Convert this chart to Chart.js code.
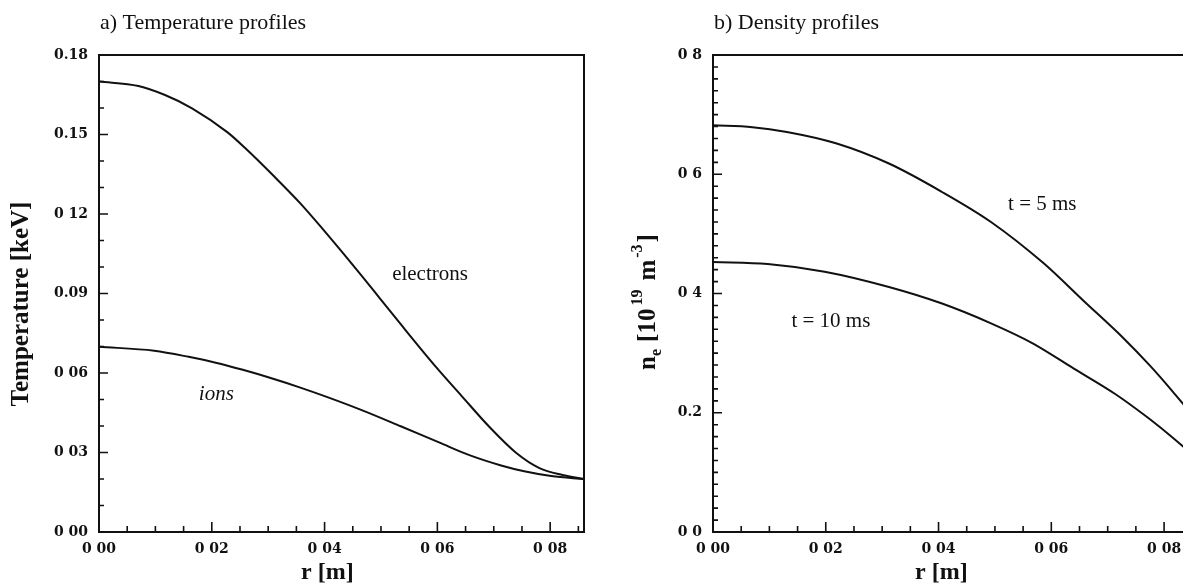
<!DOCTYPE html>
<html lang="en">
<head>
  <meta charset="UTF-8">
  <title>Temperature and density profiles</title>
  <script src="https://cdn.jsdelivr.net/npm/chart.js"></script>
  <style>
    html, body {
      margin: 0;
      padding: 0;
      width: 1183px;
      height: 587px;
      overflow: hidden;
      background: #fff;
    }
    #wrap {
      position: relative;
      width: 1183px;
      height: 587px;
    }
    canvas {
      position: absolute;
      top: 0;
    }
    #tempChart { left: 0; }
    #densChart { left: 600px; }
  </style>
</head>
<body>
  <div id="wrap">
    <canvas id="tempChart" width="600" height="587"></canvas>
    <canvas id="densChart" width="600" height="587"></canvas>
  </div>

  <script>
    // a) temperature profiles
    const rElectrons = [0, 0.007, 0.0117, 0.0165, 0.0228, 0.0261, 0.0309, 0.0357, 0.0398, 0.0432,
                        0.0467, 0.0498, 0.0535, 0.0597, 0.0644, 0.0692, 0.074, 0.0781, 0.0822, 0.086];
    const tElectrons = [0.170, 0.1683, 0.1649, 0.1599, 0.1508, 0.1445, 0.1345, 0.124, 0.114, 0.1054,
                        0.0964, 0.0882, 0.0784, 0.0624, 0.0511, 0.0397, 0.0298, 0.0241, 0.0215, 0.020];
    const rIons = [0, 0.0098, 0.0159, 0.0207, 0.0255, 0.0303, 0.0357, 0.0405, 0.0467, 0.0535,
                   0.0604, 0.0658, 0.0713, 0.0754, 0.0802, 0.086];
    const tIons = [0.0699, 0.0684, 0.0661, 0.0639, 0.0612, 0.0582, 0.0545, 0.0509, 0.0459, 0.0399,
                   0.0337, 0.0289, 0.0251, 0.0229, 0.0211, 0.020];

    // b) density profiles
    const r5ms = [0, 0.007, 0.0131, 0.0218, 0.0312, 0.0405, 0.0493, 0.0586, 0.0658, 0.0728, 0.0775, 0.0815, 0.0838];
    const n5ms = [0.682, 0.679, 0.671, 0.652, 0.618, 0.571, 0.520, 0.451, 0.387, 0.325, 0.279, 0.236, 0.210];
    const r10ms = [0, 0.0097, 0.0198, 0.0312, 0.0405, 0.0493, 0.0567, 0.064, 0.0714, 0.0768, 0.0808, 0.0838];
    const n10ms = [0.453, 0.4495, 0.4366, 0.411, 0.3836, 0.350, 0.3165, 0.274, 0.231, 0.194, 0.164, 0.140];

    // ticks
    const xTicks = [0, 0.02, 0.04, 0.06, 0.08];
    const xLabels = ['0 00', '0 02', '0 04', '0 06', '0 08'];
    const tempTicks = [0, 0.03, 0.06, 0.09, 0.12, 0.15, 0.18];
    const tempLabels = ['0 00', '0 03', '0 06', '0.09', '0 12', '0.15', '0.18'];
    const densTicks = [0, 0.2, 0.4, 0.6, 0.8];
    const densLabels = ['0 0', '0.2', '0 4', '0 6', '0 8'];

    const INK = '#111';

    function minorTicks(max, step) {
      const out = [];
      for (let i = 1; i * step < max - 1e-9; i++) out.push(i * step);
      return out;
    }

    // frame, inward ticks, titles and notes
    const decor = {
      id: 'decor',
      afterDraw(chart) {
        const o = chart.options.plugins.decor;
        const ctx = chart.ctx;
        const a = chart.chartArea;
        const xs = chart.scales.x, ys = chart.scales.y;
        ctx.save();
        ctx.strokeStyle = INK;
        ctx.fillStyle = INK;
        ctx.lineWidth = 2;
        ctx.strokeRect(a.left, a.top, a.right - a.left, a.bottom - a.top);

        ctx.lineWidth = 1.6;
        ctx.beginPath();
        o.xMinor.forEach(v => { const p = xs.getPixelForValue(v); ctx.moveTo(p, a.bottom); ctx.lineTo(p, a.bottom - 6); });
        xTicks.forEach(v => { const p = xs.getPixelForValue(v); ctx.moveTo(p, a.bottom); ctx.lineTo(p, a.bottom - 10); });
        o.yMinor.forEach(v => { const p = ys.getPixelForValue(v); ctx.moveTo(a.left, p); ctx.lineTo(a.left + 5, p); });
        o.yMajor.forEach(v => { const p = ys.getPixelForValue(v); ctx.moveTo(a.left, p); ctx.lineTo(a.left + 9, p); });
        ctx.stroke();

        // panel title
        ctx.font = '22px "Liberation Serif"';
        ctx.textAlign = 'left';
        ctx.textBaseline = 'alphabetic';
        ctx.fillText(o.title, a.left + 1, 29);

        // x title
        ctx.font = 'bold 24px "Liberation Serif"';
        ctx.textAlign = 'center';
        ctx.fillText('r [m]', xs.getPixelForValue(0.0405), 579);

        // y title (rotated), built from parts for sub/superscripts
        ctx.save();
        ctx.translate(o.yTitleX, o.yTitleY);
        ctx.rotate(-Math.PI / 2);
        const parts = o.yTitle;
        let total = 0;
        parts.forEach(p => { ctx.font = p.font; p.w = ctx.measureText(p.text).width + (p.gap || 0); total += p.w; });
        let x = -total / 2;
        ctx.textAlign = 'left';
        ctx.textBaseline = 'middle';
        parts.forEach(p => { ctx.font = p.font; ctx.fillText(p.text, x, p.dy || 0); x += p.w; });
        ctx.restore();

        // curve labels
        ctx.textAlign = 'center';
        ctx.textBaseline = 'alphabetic';
        o.notes.forEach(n => {
          ctx.font = n.font;
          ctx.fillText(n.text, xs.getPixelForValue(n.r), ys.getPixelForValue(n.v));
        });
        ctx.restore();
      }
    };

    function line(rs, vs) {
      return {
        data: rs.map((r, i) => ({ x: r, y: vs[i] })),
        borderColor: INK,
        borderWidth: 2,
        pointRadius: 0,
        fill: false,
        cubicInterpolationMode: 'monotone'
      };
    }

    function makeChart(id, cfg) {
      return new Chart(document.getElementById(id), {
        type: 'line',
        data: { datasets: cfg.datasets },
        plugins: [decor],
        options: {
          responsive: false,
          animation: false,
          layout: { padding: { top: 55, right: cfg.padRight, left: 0, bottom: 0 } },
          plugins: {
            legend: { display: false },
            tooltip: { enabled: false },
            decor: cfg.decor
          },
          scales: {
            x: {
              type: 'linear',
              min: 0,
              max: cfg.xMax,
              grid: { display: false, drawTicks: false },
              border: { display: false },
              afterBuildTicks: s => { s.ticks = xTicks.map(v => ({ value: v })); },
              afterFit: s => { s.height = 55; },
              ticks: {
                padding: 9,
                color: INK,
                font: { family: 'DejaVu Serif', size: 14, weight: 'bold' },
                maxRotation: 0,
                callback: (v, i) => xLabels[i]
              }
            },
            y: {
              type: 'linear',
              min: 0,
              max: cfg.yMax,
              grid: { display: false, drawTicks: false },
              border: { display: false },
              afterBuildTicks: s => { s.ticks = cfg.yTicks.map(v => ({ value: v })); },
              afterFit: s => { s.width = cfg.yWidth; },
              ticks: {
                padding: 11,
                color: INK,
                font: { family: 'DejaVu Serif', size: 14, weight: 'bold' },
                callback: (v, i) => cfg.yLabels[i]
              }
            }
          }
        }
      });
    }

    const big = 'bold 25px "Liberation Serif"';
    const small = 'bold 16px "Liberation Serif"';
    const noteFont = '21px "Liberation Serif"';

    makeChart('tempChart', {
      datasets: [line(rElectrons, tElectrons), line(rIons, tIons)],
      xMax: 0.086,
      yMax: 0.18,
      yTicks: tempTicks,
      yLabels: tempLabels,
      yWidth: 99,
      padRight: 16,
      decor: {
        title: 'a) Temperature profiles',
        xMinor: minorTicks(0.086, 0.005),
        yMinor: minorTicks(0.18, 0.01),
        yMajor: tempTicks,
        yTitleX: 22,
        yTitleY: 304,
        yTitle: [{ text: 'Temperature [keV]', font: big }],
        notes: [
          { text: 'electrons', r: 0.0587, v: 0.0951, font: noteFont },
          { text: 'ions', r: 0.0208, v: 0.0498, font: 'italic 21px "Liberation Serif"' }
        ]
      }
    });

    makeChart('densChart', {
      datasets: [line(r5ms, n5ms), line(r10ms, n10ms)],
      xMax: 0.0838,
      yMax: 0.8,
      yTicks: densTicks,
      yLabels: densLabels,
      yWidth: 113,
      padRight: 14.5,
      decor: {
        title: 'b) Density profiles',
        xMinor: minorTicks(0.0838, 0.005),
        yMinor: minorTicks(0.8, 0.02),
        yMajor: densTicks,
        yTitleX: 49,
        yTitleY: 302,
        yTitle: [
          { text: 'n', font: big },
          { text: 'e', font: small, dy: 8, gap: 7 },
          { text: '[10', font: big, gap: 3 },
          { text: '19', font: small, dy: -11, gap: 9 },
          { text: 'm', font: big, gap: 2 },
          { text: '-3', font: small, dy: -11, gap: 2 },
          { text: ']', font: big }
        ],
        notes: [
          { text: 't = 5 ms', r: 0.0584, v: 0.54, font: noteFont },
          { text: 't = 10 ms', r: 0.0209, v: 0.344, font: noteFont }
        ]
      }
    });
  </script>
</body>
</html>
